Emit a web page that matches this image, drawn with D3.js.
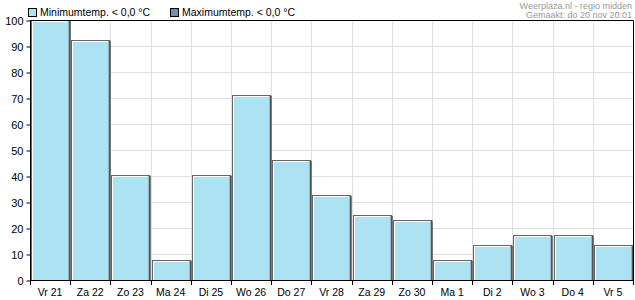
<!DOCTYPE html>
<html>
<head>
<meta charset="utf-8">
<script src="https://cdn.jsdelivr.net/npm/d3@7"></script>
<style>
  body { margin: 0; background: #fff; }
  svg { display: block; font-family: "Liberation Sans", Arial, sans-serif; }
</style>
</head>
<body>
<svg width="635" height="300"></svg>
<script>
// data
var days = ["Vr 21", "Za 22", "Zo 23", "Ma 24", "Di 25", "Wo 26", "Do 27",
            "Vr 28", "Za 29", "Zo 30", "Ma 1", "Di 2", "Wo 3", "Do 4", "Vr 5"]
var minTemp = [100, 92.3, 40.4, 7.7, 40.4, 71.2, 46.2, 32.7, 25, 23.1, 7.7, 13.5, 17.3, 17.3, 13.5]
var yTicks = [0, 10, 20, 30, 40, 50, 60, 70, 80, 90, 100]
var legendItems = ["Minimumtemp. < 0,0 °C", "Maximumtemp. < 0,0 °C"]
var credits = ["Weerplaza.nl - regio midden", "Gemaakt: do 20 nov 20:01"]

var svg = d3.select('svg')
// NB: "top" is taken by window.top, so plot edges get their own names
var plotL = 30, plotR = 633, plotT = 20, plotB = 280

var x = d3.scaleBand().domain(days).range([plotL, plotR]).padding(0)
var y = d3.scaleLinear().domain([0, 100]).range([plotB, plotT])

// grid
svg.append('g').selectAll('line').data(yTicks.slice(1))
  .enter().append('line')
  .attr('x1', plotL).attr('x2', plotR)
  .attr('y1', d => Math.round(y(d)) + 0.5).attr('y2', d => Math.round(y(d)) + 0.5)
  .attr('stroke', '#e0e0e0')

svg.append('g').selectAll('line').data(days.slice(1))
  .enter().append('line')
  .attr('x1', d => Math.round(x(d)) + 0.5).attr('x2', d => Math.round(x(d)) + 0.5)
  .attr('y1', plotT).attr('y2', plotB)
  .attr('stroke', '#e0e0e0')

// bars
var bars = svg.append('g').selectAll('g').data(minTemp)
  .enter().append('g')

bars.append('rect')
  .attr('x', (d, i) => Math.round(x(days[i])) + 1.5)
  .attr('y', d => Math.round(y(d)) + 0.5)
  .attr('width', x.bandwidth() - 2)
  .attr('height', d => plotB - Math.round(y(d)))
  .attr('fill', '#ade2f2')
  .attr('stroke', '#666')

// inner highlight
bars.append('path')
  .attr('d', (d, i) => {
    var x0 = Math.round(x(days[i])) + 2.5, y0 = Math.round(y(d)) + 1.5
    return 'M' + x0 + ',' + plotB + 'V' + y0 + 'H' + (x0 + x.bandwidth() - 5)
  })
  .attr('fill', 'none')
  .attr('stroke', '#fff')

// dark right edge
bars.append('line')
  .attr('x1', (d, i) => Math.round(x(days[i])) + x.bandwidth() - 0.5)
  .attr('x2', (d, i) => Math.round(x(days[i])) + x.bandwidth() - 0.5)
  .attr('y1', d => Math.round(y(d)) + 1)
  .attr('y2', plotB)
  .attr('stroke', '#555')
  .attr('stroke-width', 2)

// frame
svg.append('path')
  .attr('d', 'M' + (plotL + 0.5) + ',' + (plotB + 0.5) + 'V' + (plotT + 0.5) + 'H' + (plotR + 0.5) + 'V' + (plotB + 0.5) + 'H' + (plotL + 0.5))
  .attr('fill', 'none')
  .attr('stroke', '#000')

// y axis
var yAxis = svg.append('g').attr('transform', 'translate(' + (plotL + 0.5) + ',0.5)')
  .call(d3.axisLeft(y).tickValues(yTicks).tickSize(4).tickSizeOuter(0))
yAxis.select('.domain').remove()
yAxis.attr('font-family', null).attr('font-size', 11)
yAxis.selectAll('text').attr('fill', '#000')

// x axis: ticks at band boundaries
svg.append('g').selectAll('line').data(days.concat(['end']))
  .enter().append('line')
  .attr('x1', (d, i) => Math.round(plotL + i * x.step()) + 0.5)
  .attr('x2', (d, i) => Math.round(plotL + i * x.step()) + 0.5)
  .attr('y1', plotB).attr('y2', plotB + 5)
  .attr('stroke', '#000')

svg.append('g').selectAll('text').data(days)
  .enter().append('text')
  .attr('x', d => x(d) + x.bandwidth() / 2)
  .attr('y', 296)
  .attr('text-anchor', 'middle')
  .attr('font-size', 10.5)
  .text(d => d)

// legend
var legendColors = ['#ade2f2', '#6a93ad']
var legendX = [28, 170]
var lg = svg.append('g').selectAll('g').data(legendItems)
  .enter().append('g')
  .attr('transform', (d, i) => 'translate(' + legendX[i] + ',0)')
lg.append('rect')
  .attr('x', 0.5).attr('y', 8.5).attr('width', 8).attr('height', 8)
  .attr('fill', (d, i) => legendColors[i])
  .attr('stroke', '#000')
lg.append('text')
  .attr('x', 12).attr('y', 16)
  .attr('font-size', 10.5)
  .text(d => d)

// credits
svg.append('g').selectAll('text').data(credits)
  .enter().append('text')
  .attr('x', 632)
  .attr('y', (d, i) => 9 + i * 9)
  .attr('text-anchor', 'end')
  .attr('font-size', 9)
  .attr('fill', '#999')
  .text(d => d)
</script>
</body>
</html>
